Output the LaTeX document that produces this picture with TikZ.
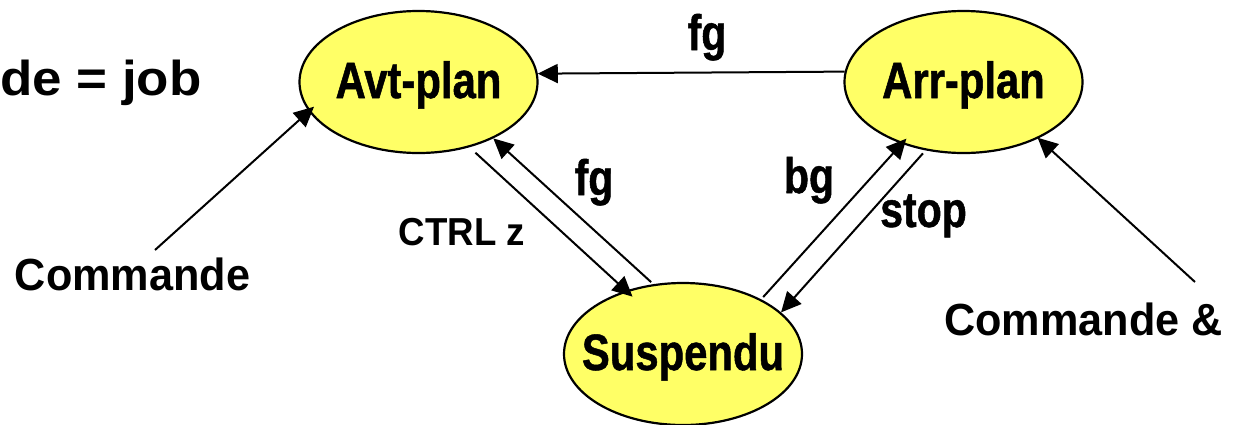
\documentclass[tikz,border=0pt]{standalone}
\usepackage{fontspec}
\setmainfont{Liberation Sans}
\newfontfamily\narrowfont{Liberation Sans}[FakeStretch=0.82,FakeBold=1]
\newfontfamily\cmdfont{Liberation Sans}[FakeStretch=0.96]
\newfontfamily\ctrlfont{Liberation Sans}[FakeStretch=0.94]
\newfontfamily\titlefont{Liberation Sans}[FakeStretch=1.08]
\usetikzlibrary{arrows.meta,shapes.geometric}
\definecolor{stateyellow}{RGB}{255,255,102}
\tikzset{
  state/.style={ellipse, draw=black, line width=2.2pt, fill=stateyellow,
    minimum width=238pt, minimum height=142pt, inner sep=0pt},
  statetext/.style={inner sep=0pt, text height=42pt, text depth=10pt,
    font=\narrowfont\bfseries\fontsize{51}{51}\selectfont},
  lbl/.style={inner sep=0pt, font=\narrowfont\bfseries\fontsize{50}{50}\selectfont},
  cmd/.style={inner sep=0pt, font=\cmdfont\bfseries\fontsize{45}{45}\selectfont},
  ctrl/.style={inner sep=0pt, font=\ctrlfont\bfseries\fontsize{39}{39}\selectfont},
  ttl/.style={inner sep=0pt, font=\titlefont\bfseries\fontsize{49}{49}\selectfont},
  conn/.style={line width=2pt, -{Triangle[length=20pt,width=19pt]}}
}
\begin{document}
\begin{tikzpicture}[x=1pt,y=-1pt]
\useasboundingbox (0,0) rectangle (1237,424);
% states
\node[state, label={[statetext]center:Avt-plan}] (avt) at (418.5,82) {};
\node[state, label={[statetext]center:Arr-plan}] (arr) at (963.5,82) {};
\node[state, label={[statetext]center:Suspendu}] (sus) at (683,354) {};
% labels
\node[ttl, anchor=base west] (ttl) at (0,95) {de = job};
\node[cmd, anchor=base] (cmdA) at (132.5,290) {Commande};
\node[cmd, anchor=base] (cmdB) at (1083.5,335) {Commande \&};
\node[lbl, anchor=base] (lfgtop) at (707,50) {fg};
\node[lbl, anchor=base] (lfgmid) at (594,195) {fg};
\node[lbl, anchor=base] (lbg) at (809,193) {bg};
\node[lbl, anchor=base] (lstop) at (923.5,227) {stop};
\node[ctrl, anchor=base] (lctrl) at (462,245) {CTRL z};
% free ends
\coordinate (c1) at (155,250);
\coordinate (c2) at (1195,282);
% connectors
\draw[conn] (arr.175.7) -- (avt.4.2);
\draw[conn, shorten >=-7pt] (c1) -- (avt.195.4);
\draw[conn, shorten >=-1pt] (c2) -- (arr.-37.9);
\draw[conn, shorten <=8pt, shorten >=-9pt] (avt.-52.4) -- (sus.132);
\draw[conn, shorten <=3pt] (sus.113) -- (avt.-37.8);
\draw[conn, shorten <=3pt, shorten >=-7pt] (sus.35.1) -- (arr.225.5);
\draw[conn, shorten <=4pt] (arr.241.3) -- (sus.23.4);
\end{tikzpicture}
\end{document}
